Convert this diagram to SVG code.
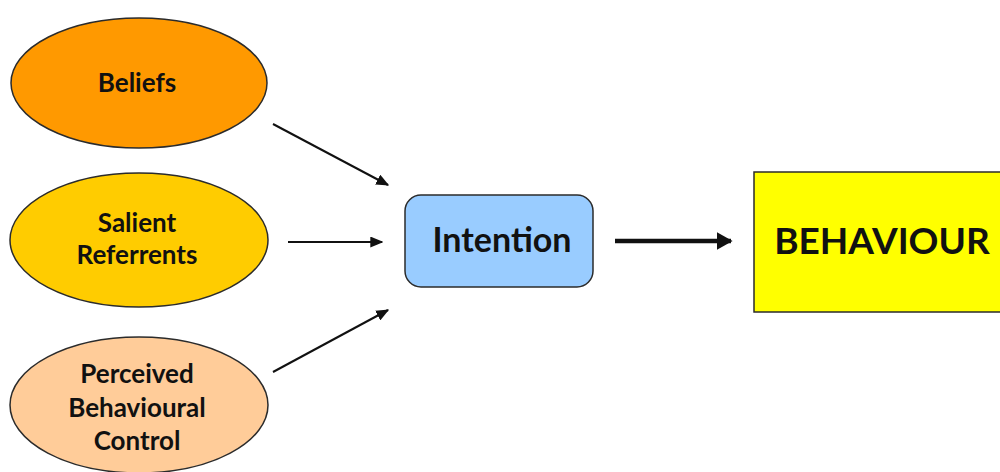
<svg xmlns="http://www.w3.org/2000/svg" width="1000" height="472" viewBox="0 0 1000 472">
  <style>
    .node { stroke: #2b2b2b; stroke-width: 1.5; }
    .lbl { font-family: Lato, "Liberation Sans", sans-serif; font-weight: bold; fill: #111; text-anchor: middle; }
    .s { font-size: 26px; }
    .m { font-size: 34px; }
    .l { font-size: 37px; }
    .edge { stroke: #111; stroke-width: 2; fill: none; }
    .thick { stroke-width: 4.5; }
  </style>
  <defs>
    <marker id="arr" viewBox="0 0 10 10" refX="9" refY="5" markerWidth="13" markerHeight="11" markerUnits="userSpaceOnUse" orient="auto" preserveAspectRatio="none">
      <path d="M0,0 L10,5 L0,10 z" fill="#111"/>
    </marker>
    <marker id="arrBig" viewBox="0 0 10 10" refX="9" refY="5" markerWidth="16" markerHeight="18" markerUnits="userSpaceOnUse" orient="auto" preserveAspectRatio="none">
      <path d="M0,0 L10,5 L0,10 z" fill="#111"/>
    </marker>
  </defs>
  <rect width="1000" height="472" fill="#ffffff"/>

  <g id="beliefs">
    <ellipse class="node" cx="139" cy="83" rx="128" ry="65" fill="#ff9900"/>
    <text class="lbl s" x="137" y="92">Beliefs</text>
  </g>

  <g id="salient-referrents">
    <ellipse class="node" cx="139" cy="240" rx="129" ry="67" fill="#ffcc00"/>
    <text class="lbl s" x="137" y="232">Salient</text>
    <text class="lbl s" x="137" y="264">Referrents</text>
  </g>

  <g id="perceived-behavioural-control">
    <ellipse class="node" cx="139" cy="405" rx="129" ry="68" fill="#ffcc99"/>
    <text class="lbl s" x="137" y="383">Perceived</text>
    <text class="lbl s" x="137" y="417">Behavioural</text>
    <text class="lbl s" x="137" y="450">Control</text>
  </g>

  <g id="intention">
    <rect class="node" x="405" y="195" width="188" height="92" rx="16" fill="#99ccff"/>
    <text class="lbl m" x="502" y="252">Intention</text>
  </g>

  <g id="behaviour">
    <rect class="node" x="754" y="172" width="260" height="140" fill="#ffff00"/>
    <text class="lbl l" x="882" y="254">BEHAVIOUR</text>
  </g>

  <g id="connectors">
    <line class="edge" x1="273" y1="124" x2="388" y2="185" marker-end="url(#arr)"/>
    <line class="edge" x1="288" y1="242" x2="382" y2="242" marker-end="url(#arr)"/>
    <line class="edge" x1="273" y1="372" x2="388" y2="310" marker-end="url(#arr)"/>
    <line class="edge thick" x1="615" y1="241" x2="731" y2="241" marker-end="url(#arrBig)"/>
  </g>
</svg>
